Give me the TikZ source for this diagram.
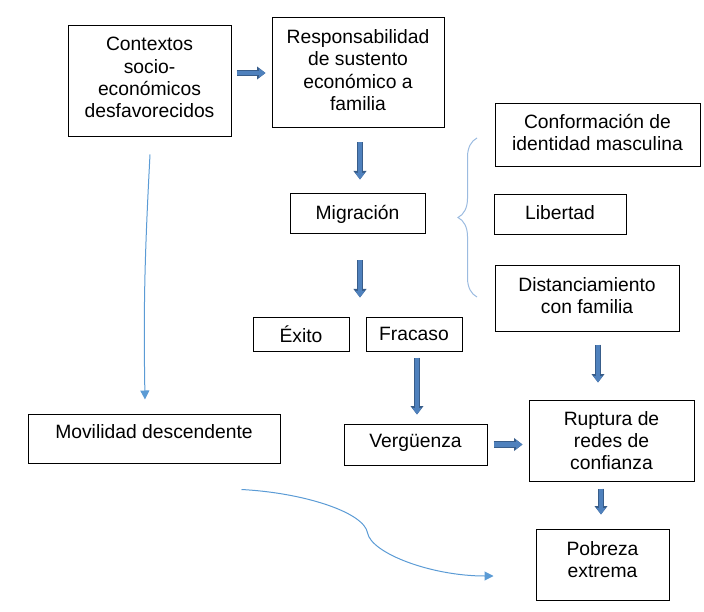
\documentclass[tikz,border=0pt]{standalone}
\usepackage{fontspec}
\setmainfont{Liberation Sans}
\usetikzlibrary{arrows.meta,calc,decorations.pathreplacing}
\definecolor{azul}{HTML}{4F81BD}
\definecolor{azulosc}{HTML}{385D8A}
\definecolor{celeste}{HTML}{5B9BD5}
\definecolor{llave}{HTML}{9BBBE0}
\begin{document}
\begin{tikzpicture}[x=1pt,y=1pt,
  caja/.style={draw,line width=1pt,align=center,inner sep=0pt,font=\fontsize{19.3}{22.2}\selectfont},
  flecha/.style={draw=azulosc,line width=6.5pt,-{Triangle[length=8.5pt,width=12.5pt]},
    postaction={draw=azul,line width=4.5pt,-{Triangle[length=6.5pt,width=9pt]}}},
  curva/.style={draw=celeste,line width=1pt,-{Triangle[length=9pt,width=9pt]}}]
\useasboundingbox (0,0) rectangle (704,-612);

\node[caja,minimum width=163,minimum height=111,text depth=8pt](cont) at (149.5,-81.5){Contextos\\socio-\\económicos\\desfavorecidos};
\node[caja,minimum width=172,minimum height=110,text depth=6pt](resp) at (358,-73){Responsabilidad\\de sustento\\económico a\\familia};
\node[caja,minimum width=135,minimum height=40](migr) at (357.5,-214){Migración};
\node[caja,minimum width=205,minimum height=63,text depth=6pt](conf) at (597.5,-135.5){Conformación de\\identidad masculina};
\node[caja,minimum width=132,minimum height=40,text depth=4pt](lib) at (560,-215){Libertad};
\node[caja,minimum width=184,minimum height=65,text depth=6pt](dist) at (587,-298.5){Distanciamiento\\con familia};
\node[caja,minimum width=96,minimum height=34](exito) at (301,-334){Éxito};
\node[caja,minimum width=96,minimum height=34](frac) at (414,-334){Fracaso};
\node[caja,minimum width=252,minimum height=49,text depth=13pt](mov) at (154,-438.5){Movilidad descendente};
\node[caja,minimum width=143,minimum height=41,text depth=7pt](verg) at (415.5,-444.5){Vergüenza};
\node[caja,minimum width=165,minimum height=81](rupt) at (611.5,-440.5){Ruptura de\\redes de\\confianza};
\node[caja,minimum width=133,minimum height=71,text depth=10pt](pob) at (602.5,-564.5){Pobreza\\extrema};

\draw[flecha,shorten <=5pt,shorten >=6pt](cont.east |- resp.west)--(resp.west);
\draw[flecha,shorten <=14pt,shorten >=14pt]([xshift=2pt]resp.south)--([xshift=2pt]resp.south |- migr.north);
\draw[flecha,shorten <=26pt,shorten >=19pt]([xshift=2.5pt]migr.south)--([xshift=2.5pt]migr.south |- frac.north);
\draw[flecha,shorten <=6pt,shorten >=9pt]([xshift=3pt]frac.south)--([xshift=3pt]frac.south |- verg.north);
\draw[flecha,shorten <=13pt,shorten >=17pt]([xshift=11pt]dist.south)--([xshift=11pt]dist.south |- rupt.north);
\draw[flecha,shorten <=6pt,shorten >=6pt](verg.east)--(verg.east -| rupt.west);
\draw[flecha,shorten <=7pt,shorten >=14pt]([xshift=-1.5pt]pob.north |- rupt.south)--([xshift=-1.5pt]pob.north);

\coordinate (c1) at ($(cont.south)+(0.5,-17)$);
\coordinate (c2) at ($(mov.north)+(-9,14)$);
\coordinate (c3) at ($(mov.south east)+(-39,-26)$);
\coordinate (c4) at ($(pob.west)+(-42,-11.5)$);
\draw[curva](c1) to[out=-93,in=91] (c2);
\draw[curva](c3) to[out=-3,in=100,out looseness=1.2,in looseness=0.4] ($(c3)!0.5!(c4)$)
  to[out=-80,in=180,out looseness=0.4,in looseness=1.2] (c4);

\draw[llave,line width=1pt,decorate,decoration={brace,amplitude=19pt}](477,-297)--(477,-138);
\end{tikzpicture}
\end{document}
